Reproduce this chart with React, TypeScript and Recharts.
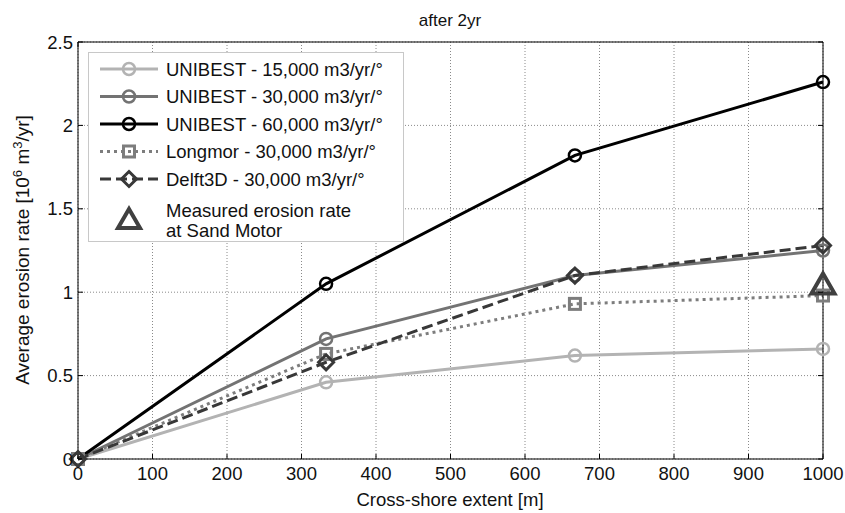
import React from 'react';
import { ComposedChart, Line, XAxis, YAxis, CartesianGrid, Legend, Label } from 'recharts';

const extents = [0, 333, 667, 1000];
const unibest15 = [0, 0.46, 0.62, 0.66];
const unibest30 = [0, 0.72, 1.1, 1.25];
const unibest60 = [0, 1.05, 1.82, 2.26];
const longmor30 = [0, 0.63, 0.93, 0.98];
const delft30 = [0, 0.58, 1.1, 1.28];
const measured = [null, null, null, 1.04];

const xTicks = [0, 100, 200, 300, 400, 500, 600, 700, 800, 900, 1000];
const yTicks = [0, 0.5, 1, 1.5, 2, 2.5];

const data = extents.map((x, i) => ({
  x,
  u15: unibest15[i],
  u30: unibest30[i],
  u60: unibest60[i],
  longmor: longmor30[i],
  delft: delft30[i],
  measured: measured[i],
}));

const FONT = '"Liberation Sans", Arial, sans-serif';

const circleDot = (color: string) => (p: any) => {
  if (p.cx == null || p.cy == null || p.value == null) return <g key={p.key} />;
  return <circle key={p.key} cx={p.cx} cy={p.cy} r={6} fill="none" stroke={color} strokeWidth={2.5} />;
};

const squareDot = (color: string) => (p: any) => {
  if (p.cx == null || p.cy == null || p.value == null) return <g key={p.key} />;
  return <rect key={p.key} x={p.cx - 5.5} y={p.cy - 5.5} width={11} height={11} fill="none" stroke={color} strokeWidth={3} />;
};

const diamondDot = (color: string) => (p: any) => {
  if (p.cx == null || p.cy == null || p.value == null) return <g key={p.key} />;
  const { cx, cy } = p;
  return (
    <path key={p.key} d={`M${cx},${cy - 7.5} L${cx + 7.5},${cy} L${cx},${cy + 7.5} L${cx - 7.5},${cy} Z`}
      fill="none" stroke={color} strokeWidth={3} />
  );
};

const triangleDot = (color: string) => (p: any) => {
  if (p.cx == null || p.cy == null || p.value == null) return <g key={p.key} />;
  const { cx, cy } = p;
  return (
    <path key={p.key} d={`M${cx},${cy - 12} L${cx + 11.5},${cy + 8} L${cx - 11.5},${cy + 8} Z`}
      fill="none" stroke={color} strokeWidth={4} strokeLinejoin="miter" />
  );
};

const XTick = (p: any) => (
  <g>
    <line x1={p.x} y1={p.y} x2={p.x} y2={p.y - 5} stroke="#000" />
    <text x={p.x} y={p.y + 21} textAnchor="middle" fontSize={18.5} fontFamily={FONT} fill="#111">
      {p.payload.value}
    </text>
  </g>
);

const YTick = (p: any) => (
  <g>
    <line x1={p.x} y1={p.y} x2={p.x + 5} y2={p.y} stroke="#000" />
    <text x={p.x - 5} y={p.y + 6.5} textAnchor="end" fontSize={18.5} fontFamily={FONT} fill="#111">
      {p.payload.value}
    </text>
  </g>
);

const TopTick = (p: any) => <line x1={p.x} y1={p.y} x2={p.x} y2={p.y + 5} stroke="#000" />;
const RightTick = (p: any) => <line x1={p.x} y1={p.y} x2={p.x - 5} y2={p.y} stroke="#000" />;

const legendItems = [
  { label: 'UNIBEST - 15,000 m3/yr/°', color: '#b3b3b3', dash: undefined, marker: 'circle' },
  { label: 'UNIBEST - 30,000 m3/yr/°', color: '#737373', dash: undefined, marker: 'circle' },
  { label: 'UNIBEST - 60,000 m3/yr/°', color: '#000000', dash: undefined, marker: 'circle' },
  { label: 'Longmor - 30,000 m3/yr/°', color: '#7d7d7d', dash: '3 4', marker: 'square' },
  { label: 'Delft3D - 30,000 m3/yr/°', color: '#383838', dash: '11 5', marker: 'diamond' },
];

const renderMarker = (marker: string, cx: number, cy: number, color: string) => {
  if (marker === 'circle') return <circle cx={cx} cy={cy} r={6} fill="none" stroke={color} strokeWidth={2.5} />;
  if (marker === 'square') return <rect x={cx - 5.5} y={cy - 5.5} width={11} height={11} fill="none" stroke={color} strokeWidth={3} />;
  return <path d={`M${cx},${cy - 7.5} L${cx + 7.5},${cy} L${cx},${cy + 7.5} L${cx - 7.5},${cy} Z`} fill="none" stroke={color} strokeWidth={3} />;
};

const LegendBox = () => (
  <svg width={316} height={190} style={{ display: 'block' }}>
    <rect x={0.5} y={0.5} width={315} height={189} fill="#fff" stroke="#c8c8c8" />
    {legendItems.map((it, i) => {
      const cy = 17 + i * 27.5;
      return (
        <g key={it.label}>
          <line x1={12} y1={cy} x2={70} y2={cy} stroke={it.color} strokeWidth={3} strokeDasharray={it.dash} />
          {renderMarker(it.marker, 41, cy, it.color)}
          <text x={78} y={cy + 6.5} fontSize={18.5} fontFamily={FONT} fill="#111">{it.label}</text>
        </g>
      );
    })}
    <path d="M41,157 L52,176 L30,176 Z" fill="none" stroke="#404040" strokeWidth={4} />
    <text x={78} y={165} fontSize={18.5} fontFamily={FONT} fill="#111">Measured erosion rate</text>
    <text x={78} y={185} fontSize={18.5} fontFamily={FONT} fill="#111">at Sand Motor</text>
  </svg>
);

const YLabel = () => {
  const cx = 29;
  const cy = 250;
  return (
    <text x={cx} y={cy} transform={`rotate(-90 ${cx} ${cy})`} textAnchor="middle" fontSize={19} fontFamily={FONT} fill="#111">
      Average erosion rate [10<tspan dy={-7} fontSize={13}>6</tspan><tspan dy={7}> m</tspan>
      <tspan dy={-7} fontSize={13}>3</tspan><tspan dy={7}>/yr]</tspan>
    </text>
  );
};

const XLabel = () => (
  <text x={450} y={506} textAnchor="middle" fontSize={18.5} fontFamily={FONT} fill="#111">
    Cross-shore extent [m]
  </text>
);

const Title = () => (
  <text x={450} y={26} textAnchor="middle" fontSize={17} fontFamily={FONT} fill="#111">
    after 2yr
  </text>
);

export default function App() {
  return (
    <div style={{ position: 'absolute', left: 0, top: 0, background: '#fff' }}>
      <ComposedChart width={845} height={513} data={data} margin={{ top: 0, right: 0, bottom: 0, left: 0 }}>
        <CartesianGrid stroke="#8a8a8a" strokeDasharray="1 2" />
        <XAxis dataKey="x" type="number" domain={[0, 1000]} ticks={xTicks} interval={0}
          height={54} tickSize={0} tickMargin={0} tick={XTick} axisLine={{ stroke: '#000' }} tickLine={false}>
          <Label content={XLabel} />
        </XAxis>
        <XAxis xAxisId="top" orientation="top" type="number" domain={[0, 1000]} ticks={xTicks} interval={0}
          height={42} tickSize={0} tickMargin={0} tick={TopTick} axisLine={{ stroke: '#000' }} tickLine={false}
          allowDataOverflow>
          <Label content={Title} />
        </XAxis>
        <YAxis type="number" domain={[0, 2.5]} ticks={yTicks} interval={0} width={78}
          tickSize={0} tickMargin={0} tick={YTick} axisLine={{ stroke: '#000' }} tickLine={false}>
          <Label content={YLabel} />
        </YAxis>
        <YAxis yAxisId="right" orientation="right" type="number" domain={[0, 2.5]} ticks={yTicks} interval={0}
          width={22} tickSize={0} tickMargin={0} tick={RightTick} axisLine={{ stroke: '#000' }} tickLine={false}
          allowDataOverflow />
        <Legend layout="vertical" align="center" verticalAlign="middle" content={LegendBox}
          wrapperStyle={{ left: 88, top: 52, width: 316, height: 190 }} />
        <Line dataKey="u15" stroke="#b3b3b3" strokeWidth={3} dot={circleDot('#b3b3b3')} activeDot={false} isAnimationActive={false} />
        <Line dataKey="u30" stroke="#737373" strokeWidth={3} dot={circleDot('#737373')} activeDot={false} isAnimationActive={false} />
        <Line dataKey="u60" stroke="#000000" strokeWidth={3} dot={circleDot('#000000')} activeDot={false} isAnimationActive={false} />
        <Line dataKey="longmor" stroke="#7d7d7d" strokeWidth={3} strokeDasharray="3 4" dot={squareDot('#7d7d7d')} activeDot={false} isAnimationActive={false} />
        <Line dataKey="delft" stroke="#383838" strokeWidth={3} strokeDasharray="11 5" dot={diamondDot('#383838')} activeDot={false} isAnimationActive={false} />
        <Line dataKey="measured" stroke="none" dot={triangleDot('#404040')} activeDot={false} isAnimationActive={false} />
      </ComposedChart>
    </div>
  );
}
